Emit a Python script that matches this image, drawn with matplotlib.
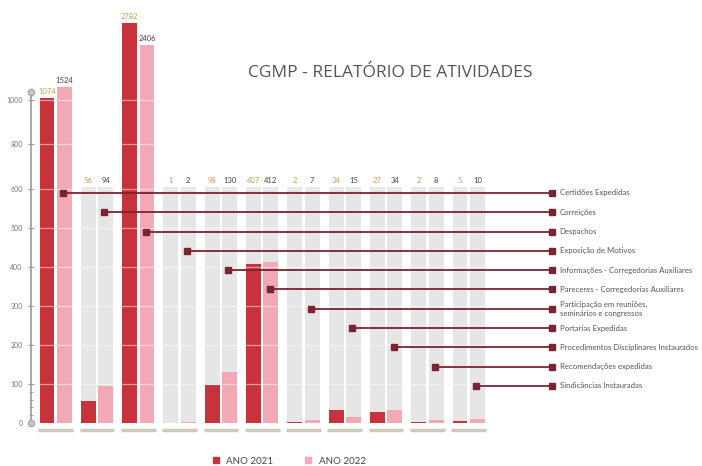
import numpy as np
import matplotlib
matplotlib.use("Agg")
import matplotlib.pyplot as plt
from matplotlib.lines import Line2D

plt.rcParams["font.family"] = ["Lato", "DejaVu Sans"]

# dados
categorias = [
    "Certidões Expedidas",
    "Correições",
    "Despachos",
    "Exposição de Motivos",
    "Informações - Corregedorias Auxiliares",
    "Pareceres - Corregedorias Auxiliares",
    "Participação em reuniões,\nseminários e congressos",
    "Portarias Expedidas",
    "Procedimentos Disciplinares Instaurados",
    "Recomendações expedidas",
    "Sindicâncias Instauradas",
]
ano_2021 = [1074, 56, 2782, 1, 98, 407, 2, 34, 27, 2, 5]
ano_2022 = [1524, 94, 2406, 2, 130, 412, 7, 15, 34, 8, 10]
ticks_y = [0, 100, 200, 300, 400, 500, 600, 800, 1000]

VERMELHO = "#c8333b"
ROSA = "#f3a8b5"
CINZA = "#e6e6e6"
VINHO = "#7a2331"

# escala "infografico": linear ate 600, comprimida acima disso
knots_v = np.array([-1000, 0, 600, 1000, 1500, 2000, 2500, 3000, 4000])
knots_p = np.array([-390, 0, 234, 323, 335, 358, 383, 413, 473])

def fwd(v):
    return np.interp(v, knots_v, knots_p)

def inv(p):
    return np.interp(p, knots_p, knots_v)

fig = plt.figure(figsize=(7.02, 4.66), dpi=100)
ax = fig.add_axes([31 / 702, 26 / 466, 669 / 702, 430 / 466])
ax.set_yscale("function", functions=(fwd, inv))
ax.set_ylim(-43.6, 3000)
ax.set_xlim(-0.598, 15.6)

x = np.arange(len(categorias))
dx, w = 0.21, 0.36

# fundo cinza
ax.bar(x - dx, 610, w, color=CINZA, zorder=1)
ax.bar(x + dx, 610, w, color=CINZA, zorder=1)
ax.bar(x - dx, ano_2021, w, color=VERMELHO, zorder=2)
ax.bar(x + dx, ano_2022, w, color=ROSA, zorder=2)

# linhas de grade por cima das barras
for t in ticks_y[1:]:
    ax.hlines(t, -0.45, len(categorias) - 0.55, color="white", lw=0.9, alpha=0.5, zorder=3)

# base de cada grupo
ax.hlines([-18] * len(x), x - 0.42, x + 0.42, color="#cdc9bd", lw=2.5, zorder=2)

# valores
for i in range(len(x)):
    ax.annotate(str(ano_2021[i]), (x[i] - dx, max(ano_2021[i], 610)), xytext=(0, 2),
                textcoords="offset points", ha="center", va="bottom", fontsize=5.5, color="#d29a55")
    ax.annotate(str(ano_2022[i]), (x[i] + dx, max(ano_2022[i], 610)), xytext=(0, 2),
                textcoords="offset points", ha="center", va="bottom", fontsize=5.5, color="#444444")

# linhas de chamada
for i, nome in enumerate(categorias):
    yy = 590 - 49.5 * i
    ax.plot([x[i] + 0.18, 12.02], [yy, yy], color=VINHO, lw=1.3, zorder=5,
            marker="s", markersize=4.5, markerfacecolor=VINHO, markeredgecolor=VINHO)
    ax.text(12.2, yy, nome, fontsize=5.6, color="#555555", va="center", ha="left",
            linespacing=1.3, zorder=5)

# eixo y
for s in ["top", "right", "bottom"]:
    ax.spines[s].set_visible(False)
ax.spines["left"].set_color("#9a9a9a")
ax.spines["left"].set_linewidth(1.2)
ax.spines["left"].set_bounds(0, 1330)
ax.plot([-0.598, -0.598], [0, 1330], "o", color="#a8a8a8", markersize=4.5,
        markerfacecolor="#c8c8c8", clip_on=False, zorder=6)
ax.set_yticks(ticks_y)
ax.set_yticklabels([str(t) for t in ticks_y])
ax.set_yticks([20, 40, 60, 80], minor=True)
ax.tick_params(axis="y", which="major", direction="inout", length=4, color="#9a9a9a",
               labelsize=5, labelcolor="#777777", pad=4)
ax.tick_params(axis="y", which="minor", direction="inout", length=3, color="#9a9a9a")
ax.set_xticks([])

fig.text(390 / 702, 1 - 73 / 466, "CGMP - RELATÓRIO DE ATIVIDADES", fontsize=12.5,
         color="#555555", ha="center", va="center", family="Open Sans")

handles = [
    Line2D([], [], ls="", marker="s", markersize=4.5, color=VERMELHO, label="ANO 2021"),
    Line2D([], [], ls="", marker="s", markersize=4.5, color=ROSA, label="ANO 2022"),
]
fig.legend(handles=handles, loc="center", bbox_to_anchor=(288 / 702, 1 - 461 / 466), ncol=2,
           frameon=False, fontsize=7, handletextpad=0.5, columnspacing=3,
           labelcolor="#444444", handlelength=1.2)

fig.savefig("out.png", dpi=100)
